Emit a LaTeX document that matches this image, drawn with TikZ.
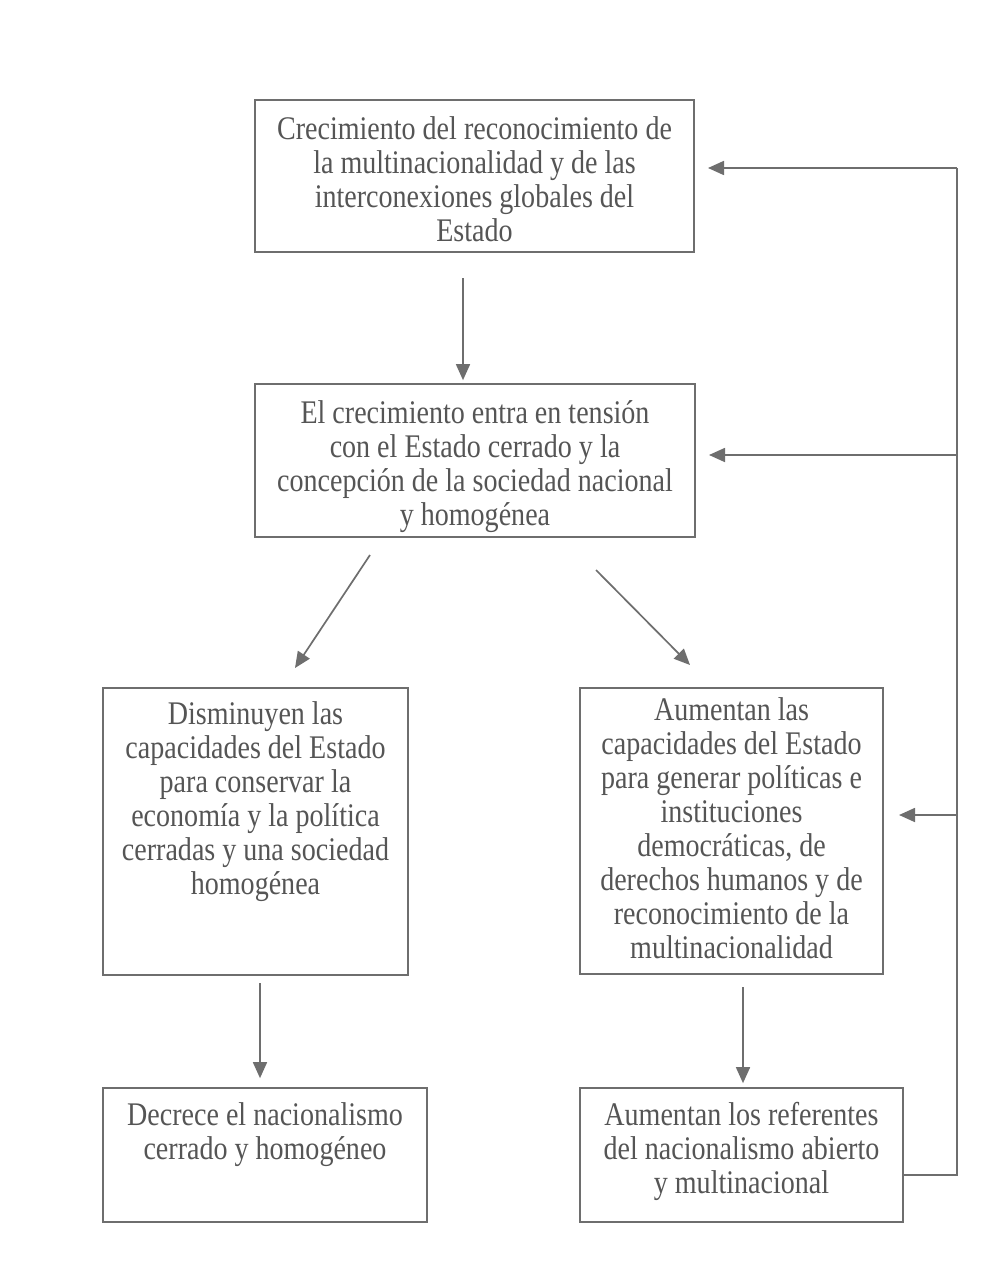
\documentclass[tikz,border=0pt]{standalone}
\usepackage{fontspec}
\setmainfont{Liberation Serif}[FakeStretch=0.85]
\usetikzlibrary{arrows.meta}

\definecolor{ink}{HTML}{555555}
\definecolor{rulegray}{HTML}{6E6E6E}

% fixed-size text block: width, height, first-baseline depth, lines
\newcommand\boxtext[4]{\parbox[c][#2][t]{#1}{\centering\rule{0pt}{#3}#4\par}}

\tikzset{
  box/.style={draw=rulegray, line width=1.7pt, inner sep=0pt, text=ink,
              font=\fontsize{33}{34}\selectfont},
  link/.style={draw=rulegray, line width=1.7pt, line join=miter},
  arr/.style={link, -{Triangle[length=16pt,width=14pt]}}
}

\begin{document}
\begin{tikzpicture}[x=1pt,y=-1pt]
  \fill[white] (0,0) rectangle (1002,1281);
  \useasboundingbox (0,0) rectangle (1002,1281);

  % boxes
  \node[box] (b1) at (474.5,176) {\boxtext{439pt}{152pt}{40pt}{Crecimiento del reconocimiento de\\la multinacionalidad y de las\\interconexiones globales del\\Estado}};
  \node[box] (b2) at (475,460.5) {\boxtext{440pt}{153pt}{39pt}{El crecimiento entra en tensión\\con el Estado cerrado y la\\concepción de la sociedad nacional\\y homogénea}};
  \node[box] (b3) at (255.5,831.5) {\boxtext{305pt}{287pt}{36pt}{Disminuyen las\\capacidades del Estado\\para conservar la\\economía y la política\\cerradas y una sociedad\\homogénea}};
  \node[box] (b4) at (731.5,831) {\boxtext{303pt}{286pt}{32pt}{Aumentan las\\capacidades del Estado\\para generar políticas e\\instituciones\\democráticas, de\\derechos humanos y de\\reconocimiento de la\\multinacionalidad}};
  \node[box] (b5) at (265,1155) {\boxtext{324pt}{134pt}{37pt}{Decrece el nacionalismo\\cerrado y homogéneo}};
  \node[box] (b6) at (741.5,1155) {\boxtext{323pt}{134pt}{37pt}{Aumentan los referentes\\del nacionalismo abierto\\y multinacional}};

  % arrow end points
  \coordinate (s12) at (463,278);
  \coordinate (dl1) at (370,555);
  \coordinate (dl2) at (295,668);
  \coordinate (dr1) at (596,570);
  \coordinate (dr2) at (690,665);
  \coordinate (s35) at (260,983);
  \coordinate (s46) at (743,987);

  % feedback rail
  \coordinate (fb) at (903,1175);
  \coordinate (rb) at (957,1175);
  \coordinate (rt) at (957,168);
  \coordinate (t1) at (708,168);
  \coordinate (k2) at (957,455);
  \coordinate (t2) at (709,455);
  \coordinate (k4) at (957,815);
  \coordinate (t4) at (899,815);

  % main flow
  \draw[arr, shorten >=3pt] (s12) -- (s12 |- b2.north);
  \draw[arr] (dl1) -- (dl2);
  \draw[arr] (dr1) -- (dr2);
  \draw[arr, shorten >=9pt] (s35) -- (s35 |- b5.north);
  \draw[arr, shorten >=4pt] (s46) -- (s46 |- b6.north);

  % feedback from the last box
  \draw[link] (b6.east |- fb) -- (rb) -- (rt);
  \draw[arr] (rt) -- (t1);
  \draw[arr] (k2) -- (t2);
  \draw[arr] (k4) -- (t4);
\end{tikzpicture}
\end{document}
